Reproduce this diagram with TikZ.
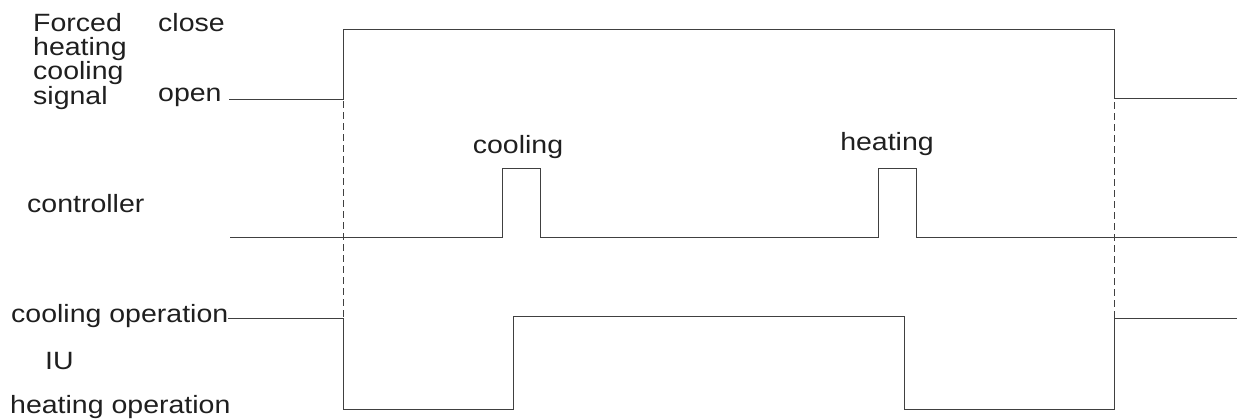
\documentclass[tikz,border=0pt]{standalone}
\usepackage{fontspec}
\setmainfont[FakeStretch=1.14]{Liberation Sans}
\begin{document}
\begin{tikzpicture}[x=1pt,y=-1pt,
  sig/.style={draw=black!75,line width=0.85pt},
  guide/.style={draw=black!75,line width=0.75pt,dash pattern=on 7pt off 4pt},
  lbl/.style={inner sep=0pt,anchor=base west,font=\fontsize{25}{25}\selectfont,text=black!88}]
\useasboundingbox (0,0) rectangle (1237,418);
% labels
\node[lbl] (sig1) at (33,31) {Forced};
\node[lbl] (sig2) at (33,55) {heating};
\node[lbl] (sig3) at (33,79.5) {cooling};
\node[lbl] (sig4) at (33,104) {signal};
\node[lbl] (close) at (158,31) {close};
\node[lbl] (open) at (158,101) {open};
\node[lbl] (ctrl) at (27,212) {controller};
\node[lbl] (coolop) at (11,322) {cooling operation};
\node[lbl] (iu) at (45,369) {IU};
\node[lbl] (heatop) at (10,413) {heating operation};
\node[lbl,anchor=base] (cool) at (518,153) {cooling};
\node[lbl,anchor=base] (heat) at (887,150) {heating};
% forced signal
\draw[sig] (229,99) -- (343,99) -- (343,29) -- (1114,29) -- (1114,98) -- (1237,98);
% controller
\draw[sig] (230,237) -- (502,237) -- (502,168) -- (540,168) -- (540,237) -- (878,237) -- (878,168) -- (916,168) -- (916,237) -- (1237,237);
% IU
\draw[sig] (228,318) -- (343,318) -- (343,409) -- (513,409) -- (513,316) -- (904,316) -- (904,409) -- (1114,409) -- (1114,318) -- (1237,318);
% guides
\draw[guide] (343,101) -- (343,318);
\draw[guide] (1114,102) -- (1114,318);
\end{tikzpicture}
\end{document}
